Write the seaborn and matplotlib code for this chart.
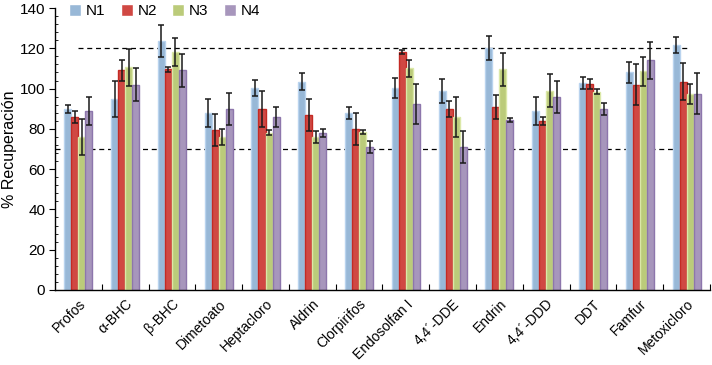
import numpy as np
import pandas as pd
import seaborn as sns
import matplotlib.pyplot as plt
from matplotlib.ticker import MultipleLocator

compounds = ['Profos', 'α-BHC', 'β-BHC', 'Dimetoato', 'Heptacloro', 'Aldrin', 'Clorpirifos',
             'Endosolfan I', '4,4´-DDE', 'Endrin', '4,4´-DDD', 'DDT', 'Famfur', 'Metoxicloro']
levels = ['N1', 'N2', 'N3', 'N4']

n1 = [90, 95, 123.5, 88, 100.5, 103.5, 88, 100.5, 99, 120, 89, 103, 108, 121.5]
n2 = [86, 109, 109.5, 79.5, 90, 87, 80, 118, 90, 91, 84, 102.5, 102, 103.5]
n3 = [76, 110.5, 118, 76, 78, 76, 78.5, 110, 86, 109.5, 99, 98.5, 108.5, 97.5]
n4 = [89, 102, 109, 90, 86, 78, 71, 92.5, 71, 84.5, 96, 90, 114, 97.5]

err1 = [2, 9, 8, 7, 4, 4, 3, 5, 6, 6, 7, 3, 5, 4]
err2 = [3, 5, 1.3, 8, 9, 8, 8, 1, 4, 6, 2, 2.5, 10, 9]
err3 = [9, 9, 7, 4, 1.2, 3, 1, 4, 10, 8, 8, 1.3, 7, 5]
err4 = [7, 8, 8, 8, 5, 2, 3, 10, 8, 1, 8, 3, 9, 10]

colors = ['#8db8e2', '#e8322b', '#c3d96c', '#a68fc3']
edges = ['#b9d3ee', '#c42a24', '#dbe8a8', '#8d76ac']

df = pd.DataFrame({
    'compuesto': compounds * 4,
    'nivel': np.repeat(levels, len(compounds)),
    'rec': n1 + n2 + n3 + n4,
    'err': err1 + err2 + err3 + err4,
})

sns.set_style('ticks', {'axes.edgecolor': 'black', 'xtick.color': 'black',
                        'ytick.color': 'black', 'text.color': 'black',
                        'axes.labelcolor': 'black'})
plt.rcParams['font.family'] = ['Liberation Sans', 'DejaVu Sans']

fig = plt.figure(figsize=(7.12, 3.65), dpi=100)
ax = fig.add_axes([0.0772, 0.2055, 0.9200, 0.7725])

sns.barplot(data=df, x='compuesto', y='rec', hue='nivel', palette=colors,
            errorbar=None, width=0.6, ax=ax, zorder=2)

# edges and error bars from the drawn patches
bar_groups = list(ax.containers)
for i, cont in enumerate(bar_groups):
    sub = df[df['nivel'] == levels[i]]
    for p, e in zip(cont.patches, sub['err']):
        p.set_edgecolor(edges[i])
        p.set_linewidth(1.0)
        cx = p.get_x() + p.get_width() / 2
        ax.errorbar(cx, p.get_height(), yerr=e, color='#1a1a1a', elinewidth=1.1,
                    capsize=2.2, capthick=1.1, zorder=3)

ax.plot([0, 13], [120, 120], ls=(0, (4, 3)), color='black', lw=0.9, zorder=1)
ax.plot([-0.5, 13], [70, 70], ls=(0, (4, 3)), color='black', lw=0.9, zorder=1)

ax.set_xlim(-0.5, len(compounds) - 0.5)
ax.set_ylim(0, 140)
ax.yaxis.set_major_locator(MultipleLocator(20))
ax.yaxis.set_minor_locator(MultipleLocator(4))
ax.set_xticks(np.arange(len(compounds)))
ax.set_xticklabels(compounds, rotation=45, ha='right', rotation_mode='anchor', fontsize=10)
ax.set_xticks(np.arange(len(compounds)) + 0.5, minor=True)
ax.tick_params(axis='x', which='major', length=0, pad=5)
ax.tick_params(axis='x', which='minor', length=4, width=0.8, direction='in')
ax.tick_params(axis='y', which='major', length=4, width=0.8, labelsize=11, pad=3)
ax.tick_params(axis='y', which='minor', length=2.5, width=0.6, direction='in')
ax.set_xlabel('')
ax.set_ylabel('% Recuperación', fontsize=11.5)
ax.yaxis.set_label_coords(-0.058, 0.5)
sns.despine(ax=ax)
for s in ['left', 'bottom']:
    ax.spines[s].set_linewidth(1.0)

ax.legend(loc='upper left', bbox_to_anchor=(0.012, 1.035), ncol=4, frameon=False,
          fontsize=11, handlelength=0.8, handleheight=0.8, handletextpad=0.3,
          columnspacing=1.0, borderaxespad=0)

fig.savefig('out.png', dpi=100)
